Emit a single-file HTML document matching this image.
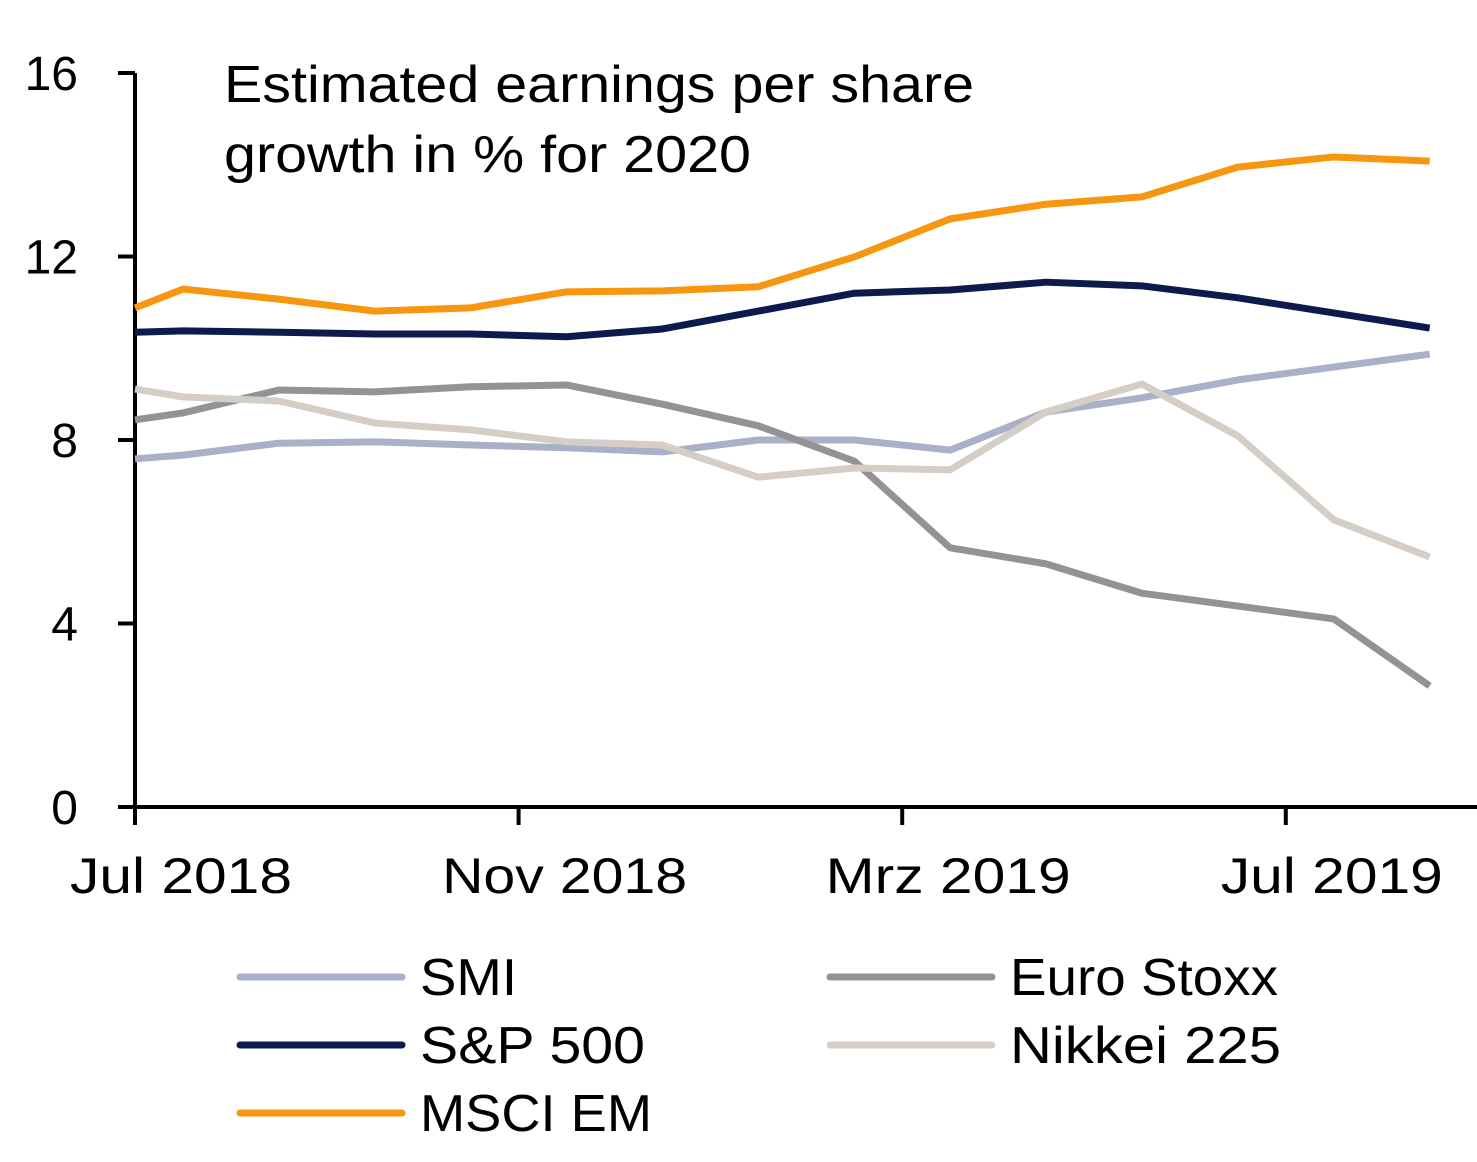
<!DOCTYPE html>
<html><head><meta charset="utf-8"><style>
body{margin:0;background:#fff}
svg text{font-family:"Liberation Sans",Arial,sans-serif;fill:#000}
</style></head><body>
<svg id="c" width="1477" height="1157"></svg>
<script>
const months=[0,0.5,1.5,2.5,3.5,4.5,5.5,6.5,7.5,8.5,9.5,10.5,11.5,12.5,13.5];
const smi=[7.59,7.67,7.93,7.96,7.89,7.83,7.74,8.0,8.0,7.78,8.61,8.92,9.31,9.59,9.87];
const sp500=[10.35,10.38,10.35,10.31,10.31,10.25,10.42,10.81,11.2,11.27,11.44,11.36,11.1,10.77,10.44];
const msci=[10.88,11.29,11.07,10.81,10.88,11.23,11.25,11.34,11.99,12.82,13.14,13.3,13.95,14.17,14.08];
const euro=[8.44,8.59,9.09,9.05,9.16,9.2,8.78,8.31,7.54,5.65,5.3,4.66,4.38,4.1,2.64];
const nikkei=[9.11,8.94,8.85,8.37,8.22,7.96,7.89,7.19,7.39,7.35,8.61,9.22,8.09,6.26,5.45];
const yTicks=[0,4,8,12,16];
const xTickMonths=[0,4,8,12];
const xTickLabels=["Jul 2018","Nov 2018","Mrz 2019","Jul 2019"];
const NS="http://www.w3.org/2000/svg";
const svg=document.getElementById('c');
const X=m=>135+m*95.9;
const Y=v=>807-v*45.875;
function mk(t,a){const e=document.createElementNS(NS,t);for(const k in a)e.setAttribute(k,a[k]);svg.appendChild(e);return e;}
let ax=mk('line',{x1:135,y1:73,x2:135,y2:825,stroke:'#000','stroke-width':4});


let bx=mk('line',{x1:133,y1:807,x2:1477,y2:807,stroke:'#000','stroke-width':4});


yTicks.forEach(v=>{
 const l=mk('line',{x1:118,y1:Y(v),x2:135,y2:Y(v),stroke:'#000','stroke-width':4});
 
 
 const t=mk('text',{x:78,y:Y(v)+17,'text-anchor':'end','font-size':48});
 t.textContent=v;
 
 
});
xTickMonths.forEach((m,i)=>{
 const l=mk('line',{x1:X(m),y1:807,x2:X(m),y2:825,stroke:'#000','stroke-width':4});
 
 
 const t=mk('text',{x:X(m)+46,y:893,'text-anchor':'middle','font-size':50,textLength:222+(i%3?23:0),lengthAdjust:'spacingAndGlyphs'});
 t.textContent=xTickLabels[i];
 
 
});
const series=[[smi,'#a9b0c8','smi'],[euro,'#939393','euro-stoxx'],[nikkei,'#d5cec6','nikkei-225'],[sp500,'#0e1a4b','sp-500'],[msci,'#f7960f','msci-em']];
series.forEach(([d,c,n])=>{
 const p=mk('polyline',{points:d.map((v,i)=>X(months[i])+','+Y(v)).join(' '),fill:'none',stroke:c,'stroke-width':7,'stroke-linejoin':'round'});
 
 
});
const tt=mk('text',{x:224,y:102,'font-size':52,textLength:750,lengthAdjust:'spacingAndGlyphs'});
tt.textContent='Estimated earnings per share';


const t2=mk('text',{x:224,y:172,'font-size':52,textLength:527,lengthAdjust:'spacingAndGlyphs'});
t2.textContent='growth in % for 2020';


const leg=[['SMI','#a9b0c8',240,977,97],['S&P 500','#0e1a4b',240,1045,225],['MSCI EM','#f7960f',240,1113,232],['Euro Stoxx','#939393',830,977,268],['Nikkei 225','#d5cec6',830,1045,271]];
leg.forEach(([n,c,x,y,w])=>{
 const l=mk('line',{x1:x,y1:y,x2:x+162,y2:y,stroke:c,'stroke-width':7,'stroke-linecap':'round'});
 
 
 const t=mk('text',{x:x+180,y:y+18,'font-size':52,textLength:w,lengthAdjust:'spacingAndGlyphs'});
 t.textContent=n;
 
 
});
</script>
</body></html>
